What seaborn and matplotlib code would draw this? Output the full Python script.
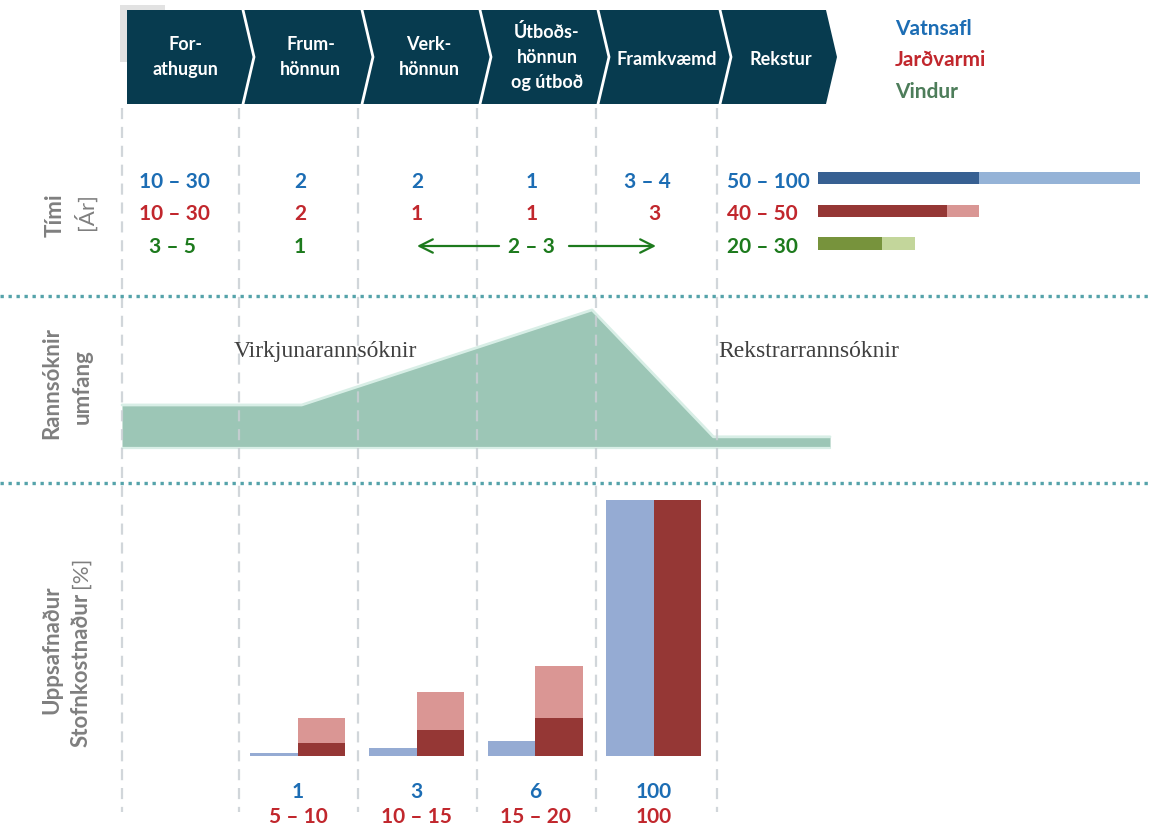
import matplotlib
matplotlib.use("Agg")
import matplotlib.pyplot as plt
import numpy as np
import pandas as pd
import seaborn as sns
from matplotlib.patches import Polygon, Rectangle

W, H = 1150, 830

# ---------------------------------------------------------------- data
phase_names = [["For-", "athugun"], ["Frum-", "hönnun"], ["Verk-", "hönnun"],
               ["Útboðs-", "hönnun", "og útboð"], ["Framkvæmd"], ["Rekstur"]]
sources = ["Vatnsafl", "Jarðvarmi", "Vindur"]

# duration of each phase [years]
time_hydro = ["10 – 30", "2", "2", "1", "3 – 4"]
time_geo = ["10 – 30", "2", "1", "1", "3"]
time_wind = ["3 – 5", "1"]
time_wind_span = "2 – 3"

# operating lifetime [years]
life_labels = ["50 – 100", "40 – 50", "20 – 30"]
life_low = [50, 40, 20]
life_high = [100, 50, 30]

# research scope over the project phases (phase units, relative scope)
scope_x = [0.0, 1.51, 3.95, 4.97, 5.95]
scope_y = [1.0, 1.0, 3.21, 0.26, 0.26]
scope_labels = ["Virkjunarannsóknir", "Rekstrarrannsóknir"]

# accumulated capital cost [%]
cost_phases = ["Forathugun", "Frumhönnun", "Verkhönnun", "Útboðshönnun", "Framkvæmd"]
cost_hydro = [0, 1, 3, 6, 100]
cost_geo_low = [0, 5, 10, 15, 100]
cost_geo_high = [0, 10, 15, 20, 100]
cost_hydro_labels = ["", "1", "3", "6", "100"]
cost_geo_labels = ["", "5 – 10", "10 – 15", "15 – 20", "100"]

# ---------------------------------------------------------------- style
NAVY = "#073b4f"
BLUE_TXT = "#1c6db4"
RED_TXT = "#c1272d"
GREEN_TXT = "#1d7a1d"
GRAY_TXT = "#7f7f7f"
LEGEND_COLORS = ["#1c6db4", "#c1272d", "#4d7d5a"]
LIFE_DARK = ["#376092", "#953735", "#77933c"]
LIFE_LIGHT = ["#95b3d7", "#d99694", "#c3d69b"]
COST_BLUE = "#95abd3"
COST_RED = "#953735"
COST_RED_LIGHT = "#da9694"
SCOPE_FILL = "#9cc6b6"
SCOPE_EDGE = "#d8eee6"

sns.set_theme(style="white")
plt.rcParams["font.family"] = ["Lato", "DejaVu Sans"]

fig = plt.figure(figsize=(W / 100, H / 100), dpi=100)
fig.patch.set_facecolor("white")


def px_axes(x0, y0, x1, y1, **kw):
    """Axes placed by pixel box (origin top-left)."""
    return fig.add_axes([x0 / W, 1 - y1 / H, (x1 - x0) / W, (y1 - y0) / H], **kw)


# ---------------------------------------------------------------- lifetime bars
ax_life = px_axes(818, 161.6, 1140, 259.9)
life_df = pd.DataFrame({"source": sources, "low": life_low, "high": life_high})
sns.barplot(data=life_df, x="high", y="source", hue="source", orient="h",
            palette=dict(zip(sources, LIFE_LIGHT)), width=0.37, saturation=1,
            errorbar=None, legend=False, linewidth=0, ax=ax_life)
sns.barplot(data=life_df, x="low", y="source", hue="source", orient="h",
            palette=dict(zip(sources, LIFE_DARK)), width=0.37, saturation=1,
            errorbar=None, legend=False, linewidth=0, ax=ax_life)
ax_life.set_xlim(0, 100)
ax_life.set_ylim(2.5, -0.5)
ax_life.set_axis_off()

# ---------------------------------------------------------------- research scope
ax_scope = px_axes(122, 300, 836, 448)
ax_scope.fill_between(scope_x, 0, scope_y, color=SCOPE_FILL, lw=0)
sns.lineplot(x=scope_x, y=scope_y, sort=False, color=SCOPE_EDGE, lw=2,
             ax=ax_scope, clip_on=False)
ax_scope.plot([scope_x[0], scope_x[-1]], [0, 0], color=SCOPE_EDGE, lw=1.6, clip_on=False)
ax_scope.set_xlim(0, 6)
ax_scope.set_ylim(0, 3.44)
ax_scope.set_axis_off()

# ---------------------------------------------------------------- capital cost bars
ax_cost = px_axes(120, 500, 713, 756)
cost_df = pd.DataFrame({
    "phase": cost_phases * 2,
    "source": ["Vatnsafl"] * len(cost_phases) + ["Jarðvarmi"] * len(cost_phases),
    "value": cost_hydro + cost_geo_low,
})
sns.barplot(data=cost_df, x="phase", y="value", hue="source",
            hue_order=["Vatnsafl", "Jarðvarmi"],
            palette={"Vatnsafl": COST_BLUE, "Jarðvarmi": COST_RED},
            width=0.8, saturation=1, errorbar=None, legend=False, linewidth=0, ax=ax_cost)
for i, (lo, hi) in enumerate(zip(cost_geo_low, cost_geo_high)):
    if hi > lo:
        ax_cost.bar(i + 0.2, hi, bottom=lo, width=0.4, color=COST_RED_LIGHT, lw=0)
for i, (lb, lg) in enumerate(zip(cost_hydro_labels, cost_geo_labels)):
    ax_cost.text(i, -16.4, lb, ha="center", va="baseline", color=BLUE_TXT,
                 fontsize=15, fontweight="bold", clip_on=False)
    ax_cost.text(i, -26.2, lg, ha="center", va="baseline", color=RED_TXT,
                 fontsize=15, fontweight="bold", clip_on=False)
ax_cost.set_xlim(-0.5, 4.5)
ax_cost.set_ylim(0, 100)
ax_cost.set_axis_off()

# ---------------------------------------------------------------- canvas layer
ax = fig.add_axes([0, 0, 1, 1], zorder=10)
ax.patch.set_alpha(0)
ax.set_xlim(0, W)
ax.set_ylim(H, 0)
ax.set_axis_off()

# header chevrons
bounds = [127, 243, 362, 480, 598, 720, 826]
tip = 11
top, mid, bot = 10, 57, 104
ax.add_patch(Rectangle((120, 5), 45, 57, fc="#e2e2e2", ec="none", zorder=0))
ax.add_patch(Polygon([(bounds[0], top), (bounds[-1], top), (bounds[-1] + tip, mid),
                      (bounds[-1], bot), (bounds[0], bot)], closed=True,
                     fc=NAVY, ec="none", zorder=1))
for b in bounds[1:-1]:
    ax.plot([b, b + tip, b], [top, mid, bot], color="white", lw=2, zorder=2,
            solid_joinstyle="miter")
line_baselines = {1: [65], 2: [50, 75], 3: [38, 63, 88]}
for i, lines in enumerate(phase_names):
    cx = (bounds[i] + bounds[i + 1]) / 2 + (0 if i == 0 else 8)
    for s, yb in zip(lines, line_baselines[len(lines)]):
        ax.text(cx, yb, s, ha="center", va="baseline", color="white",
                fontsize=13, fontweight="bold", zorder=3)

# legend
for s, c, yb in zip(sources, LEGEND_COLORS, [35, 66, 98]):
    ax.text(895, yb, s, ha="left", va="baseline", color=c, fontsize=15, fontweight="bold")

# phase separators
for x in [122, 239, 358, 477, 596, 717]:
    ax.plot([x, x], [108, 812], color="#c9cfd4", lw=1.6, ls=(0, (5, 3.5)), alpha=0.85)

# section dividers
for y in [296, 483]:
    ax.plot([0, W], [y, y], color="#55a3aa", lw=2.4, ls=(0, (1, 1.4)))

# durations
row_base = [188, 220, 253]
for s, x in zip(time_hydro, [174, 300, 417, 532, 647]):
    ax.text(x, row_base[0], s, ha="center", va="baseline", color=BLUE_TXT,
            fontsize=15, fontweight="bold")
for s, x in zip(time_geo, [174, 300, 417, 532, 654]):
    ax.text(x, row_base[1], s, ha="center", va="baseline", color=RED_TXT,
            fontsize=15, fontweight="bold")
for s, x in zip(time_wind, [172, 300]):
    ax.text(x, row_base[2], s, ha="center", va="baseline", color=GREEN_TXT,
            fontsize=15, fontweight="bold")
ax.text(531, row_base[2], time_wind_span, ha="center", va="baseline", color=GREEN_TXT,
        fontsize=15, fontweight="bold")
arrow_kw = dict(arrowstyle="->", color=GREEN_TXT, lw=1.6, mutation_scale=24,
                shrinkA=0, shrinkB=0)
ax.annotate("", xy=(417, 246), xytext=(499, 246), arrowprops=arrow_kw)
ax.annotate("", xy=(656, 246), xytext=(569, 246), arrowprops=arrow_kw)
for s, c, yb in zip(life_labels, [BLUE_TXT, RED_TXT, GREEN_TXT], row_base):
    ax.text(727, yb, s, ha="left", va="baseline", color=c, fontsize=15, fontweight="bold")

# research labels
for s, x in zip(scope_labels, [234, 718]):
    ax.text(x, 357, s, ha="left", va="baseline", color="#404040", fontsize=17,
            family="Liberation Serif")

# row titles
title_kw = dict(rotation=90, color=GRAY_TXT, fontsize=16)
ax.text(55, 215, "Tími", ha="center", va="center", fontweight="bold", **title_kw)
ax.text(85, 212, "[Ár]", ha="center", va="center", fontweight="normal", **title_kw)
ax.text(52, 383, "Rannsóknir", ha="center", va="center", fontweight="bold", **title_kw)
ax.text(82, 387, "umfang", ha="center", va="center", fontweight="bold", **title_kw)
ax.text(52, 650, "Uppsafnaður", ha="center", va="center", fontweight="bold", **title_kw)
t_stofn = ax.text(81, 747, "Stofnkostnaður", ha="center", va="bottom",
                  fontweight="bold", **title_kw)
fig.canvas.draw()
bb = t_stofn.get_window_extent()
top_px = H - bb.y1  # top edge of the rotated word in image pixels
ax.text(81, top_px - 5, "[%]", ha="center", va="bottom", fontweight="normal", **title_kw)

fig.savefig("out.png", dpi=100, facecolor="white")
